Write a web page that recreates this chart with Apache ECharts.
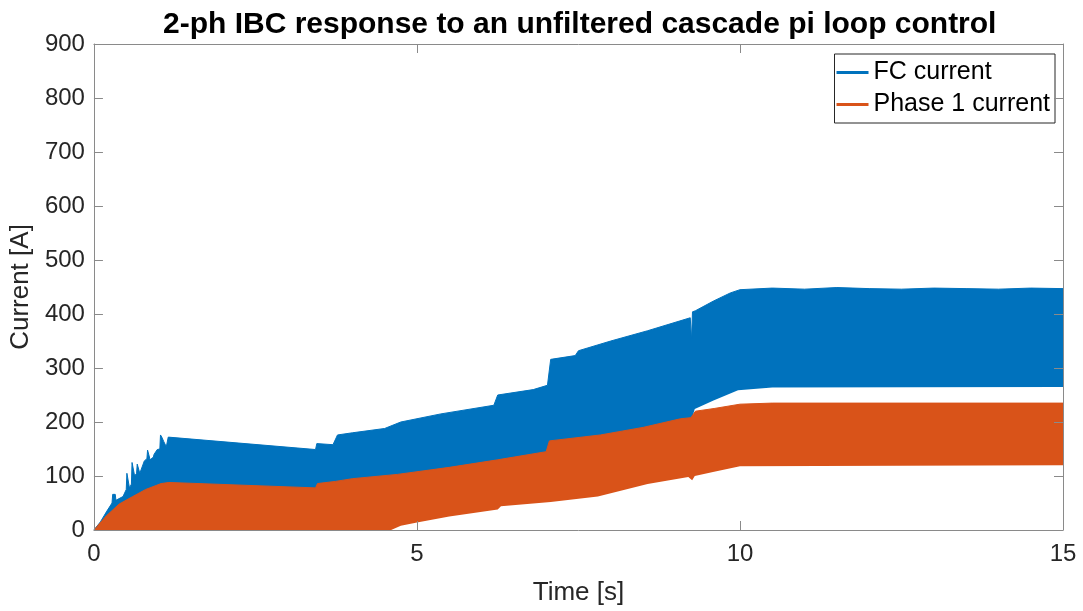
<!DOCTYPE html>
<html>
<head>
<meta charset="utf-8">
<script src="https://cdn.jsdelivr.net/npm/echarts@6/dist/echarts.min.js"></script>
<style>
html,body{margin:0;padding:0;background:#fff;}
#chart{width:1083px;height:611px;}
</style>
</head>
<body>
<div id="chart"></div>
<script>
// FC current: upper envelope
const fcUpperT = [0, 0.1, 0.2, 0.28, 0.29, 0.33, 0.34, 0.45, 0.5, 0.51, 0.54, 0.55, 0.58, 0.59, 0.62, 0.63, 0.66, 0.67, 0.7, 0.71, 0.78, 0.82, 0.83, 0.86, 0.87, 0.92, 0.93, 0.96, 0.98, 1.02, 1.03, 1.05, 1.08, 1.12, 1.15, 1.18, 3.43, 3.45, 3.7, 3.77, 4.0, 4.5, 4.75, 5.37, 6.19, 6.25, 6.8, 7.02, 7.07, 7.45, 7.5, 8.0, 8.57, 9.23, 9.25, 9.265, 9.31, 9.59, 9.85, 10.0, 10.5, 11.0, 11.5, 12.0, 12.5, 13.0, 13.5, 14.0, 14.5, 15.0];
const fcUpperV = [0, 15, 35, 50, 66, 66, 55, 62, 75, 105, 105, 78, 85, 125, 125, 100, 105, 122, 120, 105, 128, 132, 148, 146, 130, 135, 140, 138, 149, 150, 176, 172, 164, 154, 172, 173, 149, 160, 158, 176, 180, 188, 200, 215, 231, 250, 260, 268, 316, 323, 332, 350, 369, 393, 352, 404, 406, 424, 439, 445, 448, 446, 449, 447, 446, 448, 447, 446, 448, 447];
// FC current: lower envelope
const fcLowerT = [0, 7.0, 9.24, 9.3, 9.59, 9.97, 10.5, 15.0];
const fcLowerV = [0, 135, 200, 224, 240, 259, 264, 265];
// Phase 1 current: upper envelope
const ph1UpperT = [0, 0.19, 0.39, 0.6, 0.8, 1.04, 1.16, 3.43, 3.46, 3.74, 4.0, 4.7, 5.5, 6.25, 7.0, 7.05, 7.84, 8.5, 9.08, 9.24, 9.31, 9.6, 10.0, 10.5, 15.0];
const ph1UpperV = [0, 26, 48, 62, 75, 86, 88, 78, 86, 90, 95, 103, 116, 130, 145, 165, 176, 190, 206, 208, 220, 225, 233, 235, 235];
// Phase 1 current: lower envelope
const ph1LowerT = [0, 4.6, 4.75, 5.0, 5.5, 6.25, 6.3, 7.07, 7.8, 8.57, 9.2, 9.26, 9.3, 9.6, 10.0, 15.0];
const ph1LowerV = [0, 0, 8, 14, 25, 38, 44, 52, 62, 85, 98, 92, 100, 108, 118, 120];

const xTickLabels = ['0', '5', '10', '15'];

const BLUE = '#0072BD';
const ORANGE = '#D95319';

function pairs(t, v) { return t.map((x, i) => [x, v[i]]); }

const chart = echarts.init(document.getElementById('chart'));
const axisColor = '#8a8a8a';
const labelColor = '#262626';
const font = 'Liberation Sans, Arial, sans-serif';

chart.setOption({
  animation: false,
  backgroundColor: '#ffffff',
  title: {
    text: '2-ph IBC response to an unfiltered cascade pi loop control',
    left: 158, top: 5,
    textStyle: { fontFamily: font, fontSize: 30, fontWeight: 'bold', color: '#000' }
  },
  legend: {
    data: ['FC current', 'Phase 1 current'],
    orient: 'vertical',
    right: 28, top: 54,
    padding: [6, 5, 6, 2],
    itemGap: 7,
    itemWidth: 32, itemHeight: 14,
    backgroundColor: '#fff',
    borderColor: '#262626', borderWidth: 1,
    icon: 'path://M0,0 L32,0 L32,3 L0,3 Z',
    textStyle: { fontFamily: font, fontSize: 25, color: '#000' }
  },
  grid: { left: 93, right: 20, top: 44, bottom: 77, containLabel: false },
  xAxis: [{
    type: 'value', min: 0, max: 15, interval: 5, position: 'bottom', z: 5,
    name: 'Time [s]', nameLocation: 'middle', nameGap: 50,
    nameTextStyle: { fontFamily: font, fontSize: 26, color: labelColor },
    axisLine: { onZero: false, lineStyle: { color: axisColor, width: 1 } },
    axisTick: { inside: true, length: 9, lineStyle: { color: axisColor } },
    axisLabel: { fontFamily: font, fontSize: 24, color: labelColor, margin: 12,
      formatter: v => xTickLabels[Math.round(v / 5)] },
    splitLine: { show: false }
  }, {
    type: 'value', min: 0, max: 15, interval: 5, position: 'top', z: 5,
    axisLine: { onZero: false, lineStyle: { color: axisColor, width: 1 } },
    axisTick: { inside: true, length: 9, lineStyle: { color: axisColor } },
    axisLabel: { show: false }, splitLine: { show: false }
  }],
  yAxis: [{
    type: 'value', min: 0, max: 900, interval: 100, position: 'left', z: 5,
    name: 'Current [A]', nameLocation: 'middle', nameGap: 47, nameRotate: 90,
    nameTextStyle: { fontFamily: font, fontSize: 26, color: labelColor },
    axisLine: { show: true, onZero: false, lineStyle: { color: axisColor, width: 1 } },
    axisTick: { show: true, inside: true, length: 9, lineStyle: { color: axisColor } },
    axisLabel: { fontFamily: font, fontSize: 24, color: labelColor, margin: 9 },
    splitLine: { show: false }
  }, {
    type: 'value', min: 0, max: 900, interval: 100, position: 'right', z: 5,
    axisLine: { show: true, onZero: false, lineStyle: { color: axisColor, width: 1 } },
    axisTick: { show: true, inside: true, length: 9, lineStyle: { color: axisColor } },
    axisLabel: { show: false }, splitLine: { show: false }
  }],
  series: [
    { name: 'FC current', type: 'line', data: pairs(fcUpperT, fcUpperV), symbol: 'none',
      color: BLUE, lineStyle: { color: BLUE, width: 1 }, areaStyle: { color: BLUE, opacity: 1 } },
    { name: 'fc-low', type: 'line', data: pairs(fcLowerT, fcLowerV), symbol: 'none',
      lineStyle: { width: 0, color: '#fff' }, areaStyle: { color: '#fff', opacity: 1 } },
    { name: 'Phase 1 current', type: 'line', data: pairs(ph1UpperT, ph1UpperV), symbol: 'none',
      color: ORANGE, lineStyle: { color: ORANGE, width: 1 }, areaStyle: { color: ORANGE, opacity: 1 } },
    { name: 'ph1-low', type: 'line', data: pairs(ph1LowerT, ph1LowerV), symbol: 'none',
      lineStyle: { width: 0, color: '#fff' }, areaStyle: { color: '#fff', opacity: 1 } }
  ]
});
</script>
</body>
</html>
